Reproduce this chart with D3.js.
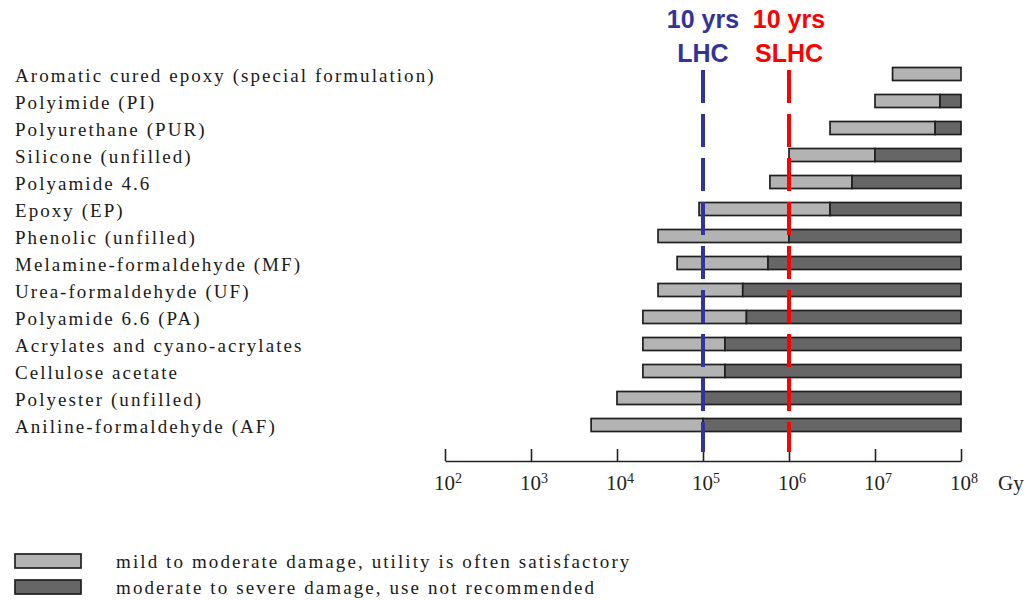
<!DOCTYPE html>
<html>
<head>
<meta charset="utf-8">
<script src="https://cdn.jsdelivr.net/npm/d3@7"></script>
<style>
  html, body { margin: 0; padding: 0; background: #fff; }
  svg { display: block; }
</style>
</head>
<body>
<svg id="chart" width="1028" height="600"></svg>
<script>
// ---- data ----
const categories = [
  "Aromatic cured epoxy (special formulation)",
  "Polyimide (PI)",
  "Polyurethane (PUR)",
  "Silicone (unfilled)",
  "Polyamide 4.6",
  "Epoxy (EP)",
  "Phenolic (unfilled)",
  "Melamine-formaldehyde (MF)",
  "Urea-formaldehyde (UF)",
  "Polyamide 6.6 (PA)",
  "Acrylates and cyano-acrylates",
  "Cellulose acetate",
  "Polyester (unfilled)",
  "Aniline-formaldehyde (AF)"
];
// dose (Gy) where mild-to-moderate damage begins
const mildStart = [1.6e7, 1e7, 3e6, 1e6, 6e5, 9e4, 3e4, 5e4, 3e4, 2e4, 2e4, 2e4, 1e4, 5e3];
// dose (Gy) where moderate-to-severe damage begins
const severeStart = [1e8, 5.7e7, 5e7, 1e7, 5.4e6, 3e6, 1e6, 5.7e5, 2.9e5, 3.2e5, 1.8e5, 1.8e5, 1e5, 1e5];
const doseMax = 1e8;

const tickValues = [1e2, 1e3, 1e4, 1e5, 1e6, 1e7, 1e8];
const unitLabel = "Gy";

const markerValues = [1e5, 1e6];
const markerLine1 = ["10 yrs", "10 yrs"];
const markerLine2 = ["LHC", "SLHC"];
const markerColors = ["#333399", "#ff0000"];

const legendLabels = [
  "mild to moderate damage, utility is often satisfactory",
  "moderate to severe damage, use not recommended"
];
const legendColors = ["#b3b3b3", "#666666"];

// ---- drawing ----
const svg = d3.select("#chart");
const serif = "'Liberation Serif', 'Times New Roman', serif";
const sans = "'Liberation Sans', Arial, sans-serif";

const x = d3.scaleLog().domain([1e2, 1e8]).range([445, 961]);
const y = d3.scalePoint().domain(categories).range([74, 425]);
const barH = 13;

// category labels
svg.append("g").selectAll("text").data(categories).join("text")
  .attr("x", 15)
  .attr("y", d => y(d) + 7.5)
  .attr("font-family", serif)
  .attr("font-size", 19)
  .attr("letter-spacing", 2.05)
  .attr("fill", "#1a1a1a")
  .text(d => d);

// bars
const rows = categories.map((c, i) => ({ c, s: mildStart[i], m: severeStart[i] }));
const bars = svg.append("g");
bars.selectAll("rect.mild").data(rows).join("rect")
  .attr("class", "mild")
  .attr("x", d => x(d.s))
  .attr("y", d => y(d.c) - barH / 2)
  .attr("width", d => x(d.m) - x(d.s))
  .attr("height", barH)
  .attr("fill", legendColors[0])
  .attr("stroke", "#1f1f1f")
  .attr("stroke-width", 1.7);
bars.selectAll("rect.severe").data(rows.filter(d => d.m < doseMax)).join("rect")
  .attr("class", "severe")
  .attr("x", d => x(d.m))
  .attr("y", d => y(d.c) - barH / 2)
  .attr("width", d => x(doseMax) - x(d.m))
  .attr("height", barH)
  .attr("fill", legendColors[1])
  .attr("stroke", "#1f1f1f")
  .attr("stroke-width", 1.7);

// axis
const axisG = svg.append("g").attr("transform", "translate(0,461)")
  .call(d3.axisBottom(x).tickValues(tickValues).tickSizeInner(-12).tickSizeOuter(0).tickFormat(""));
axisG.select(".domain").attr("stroke", "#222").attr("stroke-width", 1.6);
axisG.selectAll(".tick line").attr("stroke", "#222").attr("stroke-width", 1.6);

const tl = svg.append("g").selectAll("text").data(tickValues).join("text")
  .attr("x", d => x(d) + 3)
  .attr("y", 490)
  .attr("text-anchor", "middle")
  .attr("font-family", serif)
  .attr("font-size", 21)
  .attr("fill", "#222");
tl.append("tspan").text("10");
tl.append("tspan").attr("font-size", 14).attr("dy", -7).text(d => Math.round(Math.log10(d)));

svg.append("text")
  .attr("x", 998).attr("y", 490)
  .attr("font-family", serif).attr("font-size", 21).attr("fill", "#222")
  .text(unitLabel);

// marker lines
const mk = svg.append("g").selectAll("g").data(markerValues).join("g");
mk.append("line")
  .attr("x1", d => x(d)).attr("x2", d => x(d))
  .attr("y1", 70).attr("y2", 452)
  .attr("stroke", (d, i) => markerColors[i])
  .attr("stroke-width", 4)
  .attr("stroke-dasharray", "33,11");
mk.append("text")
  .attr("x", d => x(d)).attr("y", 28)
  .attr("text-anchor", "middle")
  .attr("font-family", sans).attr("font-weight", "bold").attr("font-size", 25)
  .attr("fill", (d, i) => markerColors[i])
  .text((d, i) => markerLine1[i]);
mk.append("text")
  .attr("x", d => x(d)).attr("y", 62)
  .attr("text-anchor", "middle")
  .attr("font-family", sans).attr("font-weight", "bold").attr("font-size", 25)
  .attr("fill", (d, i) => markerColors[i])
  .text((d, i) => markerLine2[i]);

// legend
const lg = svg.append("g").selectAll("g").data(legendLabels).join("g")
  .attr("transform", (d, i) => `translate(0,${554 + i * 26})`);
lg.append("rect")
  .attr("x", 15).attr("y", 0).attr("width", 66).attr("height", 14)
  .attr("fill", (d, i) => legendColors[i])
  .attr("stroke", "#1f1f1f").attr("stroke-width", 1.7);
lg.append("text")
  .attr("x", 116).attr("y", 13.5)
  .attr("font-family", serif).attr("font-size", 19)
  .attr("letter-spacing", 2.1)
  .attr("fill", "#1a1a1a")
  .text(d => d);
</script>
</body>
</html>
